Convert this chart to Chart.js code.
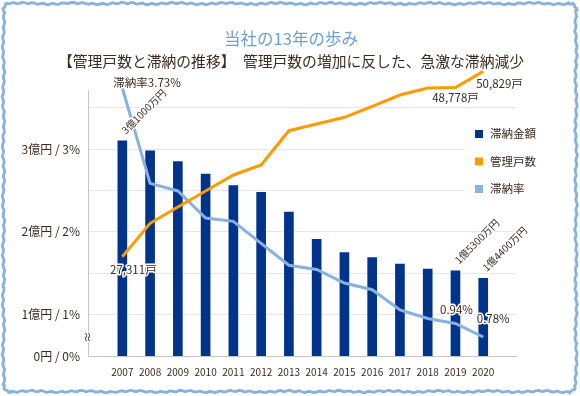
<!DOCTYPE html>
<html lang="ja">
<head>
<meta charset="utf-8">
<style>
  html, body { margin: 0; padding: 0; background: #fff; }
  #wrap { width: 580px; height: 396px; }
</style>
<script src="https://cdn.jsdelivr.net/npm/chart.js@4.4.1/dist/chart.umd.min.js"></script>
</head>
<body>
<div id="wrap"><canvas id="chart" width="580" height="396"></canvas></div>
<script>
// --- data ---
const years = ['2007', '2008', '2009', '2010', '2011', '2012', '2013', '2014', '2015', '2016', '2017', '2018', '2019', '2020']
// 滞納金額 (億円)
const arrears = [3.10, 2.98, 2.85, 2.70, 2.56, 2.48, 2.24, 1.91, 1.75, 1.69, 1.61, 1.55, 1.53, 1.44]
// 管理戸数 (戸)
const households = [27311, 31550, 33620, 35650, 37680, 38950, 43300, 44150, 45000, 46380, 47830, 48720, 48778, 50829]
// 滞納率 (%)
const arrearsRate = [3.73, 2.60, 2.51, 2.19, 2.15, 1.89, 1.63, 1.58, 1.42, 1.34, 1.10, 1.00, 0.94, 0.78]
// left axis (0 is drawn compressed at 0.5)
const yTicks = [0.5, 1, 1.5, 2, 2.5, 3, 3.5]
const yTickLabels = { 0.5: '0円 / 0%', 1: '1億円 / 1%', 2: '2億円 / 2%', 3: '3億円 / 3%' }
const labelled = [0, 12, 13]

const FONT = "'Noto Sans CJK JP', 'Noto Sans', sans-serif"
const TEXT = '#3c2b20'
const NAVY = '#00348a'
const ORANGE = '#ff9b00'
const SKY = '#86b1e1'

function fmtYen(v) {
  const oku = Math.floor(v + 1e-9)
  const man = Math.round((v - oku) * 10000)
  return oku + '億' + man + '万円'
}
function fmtHouse(v) {
  return v.toLocaleString('en-US') + '戸'
}

function haloText(ctx, text, x, y) {
  ctx.lineJoin = 'round'
  ctx.lineWidth = 3
  ctx.strokeStyle = '#fff'
  ctx.strokeText(text, x, y)
  ctx.fillText(text, x, y)
}

// wobbly hand-drawn frame
function framePath(ctx, x0, y0, x1, y1, r) {
  const pts = []
  let k = 0
  const add = (x, y, nx, ny) => {
    const w = Math.sin(k * 1.9) * 0.8 + Math.sin(k * 0.37) * 0.6
    k++
    pts.push([x + nx * w, y + ny * w])
  }
  const arc = (cx, cy, a0, a1) => {
    for (let a = a0; a <= a1; a += 0.25) add(cx + r * Math.cos(a), cy + r * Math.sin(a), Math.cos(a), Math.sin(a))
  }
  for (let x = x0 + r; x <= x1 - r; x += 3) add(x, y0, 0, -1)
  arc(x1 - r, y0 + r, -Math.PI / 2, 0)
  for (let y = y0 + r; y <= y1 - r; y += 3) add(x1, y, 1, 0)
  arc(x1 - r, y1 - r, 0, Math.PI / 2)
  for (let x = x1 - r; x >= x0 + r; x -= 3) add(x, y1, 0, 1)
  arc(x0 + r, y1 - r, Math.PI / 2, Math.PI)
  for (let y = y1 - r; y >= y0 + r; y -= 3) add(x0, y, -1, 0)
  arc(x0 + r, y0 + r, Math.PI, Math.PI * 1.5)
  ctx.beginPath()
  pts.forEach((p, i) => i ? ctx.lineTo(p[0], p[1]) : ctx.moveTo(p[0], p[1]))
  ctx.closePath()
}

const decorPlugin = {
  id: 'decor',
  beforeDraw(chart) {
    const ctx = chart.ctx
    ctx.save()
    framePath(ctx, 3.5, 3.5, 576, 391.5, 7)
    ctx.strokeStyle = SKY
    ctx.lineWidth = 2.8
    ctx.stroke()

    ctx.textAlign = 'center'
    ctx.textBaseline = 'middle'
    ctx.fillStyle = '#6d9fd7'
    ctx.font = '16.5px ' + FONT
    ctx.fillText('当社の13年の歩み', 291, 39)
    ctx.fillStyle = TEXT
    ctx.font = '14.8px ' + FONT
    ctx.fillText('【管理戸数と滞納の推移】　管理戸数の増加に反した、急激な滞納減少', 291, 61)
    ctx.restore()
  },
  afterDraw(chart) {
    const ctx = chart.ctx
    const area = chart.chartArea
    ctx.save()
    // axis break mark
    ctx.translate(area.left, 337)
    ctx.rotate(-Math.PI / 2)
    ctx.font = '11px ' + FONT
    ctx.fillStyle = TEXT
    ctx.textAlign = 'center'
    ctx.textBaseline = 'middle'
    haloText(ctx, '≈', 0, 0)
    ctx.restore()

    // legend
    ctx.save()
    ctx.fillStyle = '#fff'
    ctx.fillRect(465, 114, area.right - 465, 90)
    ctx.font = '11.5px ' + FONT
    ctx.textBaseline = 'middle'
    ctx.textAlign = 'left'
    const rows = [134, 161.5, 189]
    chart.data.datasets.forEach((ds, i) => {
      ctx.fillStyle = ds.legendColor
      ctx.fillRect(475, rows[i] - 4, 8, 8)
      ctx.fillStyle = TEXT
      ctx.fillText(ds.label, 490, rows[i])
    })
    ctx.restore()
  }
}

const labelPlugin = {
  id: 'pointLabels',
  afterDatasetsDraw(chart) {
    const ctx = chart.ctx
    const bars = chart.getDatasetMeta(0).data
    const house = chart.getDatasetMeta(1).data
    const rate = chart.getDatasetMeta(2).data
    ctx.save()
    ctx.fillStyle = TEXT

    // 滞納金額, rotated
    ctx.font = '10px ' + FONT
    ctx.textAlign = 'left'
    ctx.textBaseline = 'middle'
    labelled.forEach(i => {
      const b = bars[i]
      ctx.save()
      ctx.translate(b.x + 1, b.y - 9)
      ctx.rotate(-Math.PI / 4)
      haloText(ctx, fmtYen(arrears[i]), 0, 0)
      ctx.restore()
    })

    ctx.font = '11.5px ' + FONT
    // 管理戸数
    const houseOff = { 0: [11, 12.5, 'center'], 12: [0, 10, 'center'], 13: [-7, 12, 'left'] }
    labelled.forEach(i => {
      const p = house[i], o = houseOff[i]
      ctx.textAlign = o[2]
      haloText(ctx, fmtHouse(households[i]), p.x + o[0], p.y + o[1])
    })
    // 滞納率
    const rateOff = { 0: [-9, -5, 'left'], 12: [1, -13.5, 'center'], 13: [10, -18, 'center'] }
    labelled.forEach(i => {
      const p = rate[i], o = rateOff[i]
      ctx.textAlign = o[2]
      const txt = (i === 0 ? '滞納率' : '') + arrearsRate[i].toFixed(2) + '%'
      haloText(ctx, txt, p.x + o[0], p.y + o[1])
    })
    ctx.restore()
  }
}

new Chart(document.getElementById('chart'), {
  data: {
    datasets: [
      {
        type: 'bar',
        label: '滞納金額',
        data: arrears.map((v, i) => ({ x: i, y: v })),
        backgroundColor: NAVY,
        legendColor: NAVY,
        barThickness: 9,
        yAxisID: 'y',
        order: 3
      },
      {
        type: 'line',
        label: '管理戸数',
        data: households.map((v, i) => ({ x: i, y: v })),
        borderColor: ORANGE,
        legendColor: ORANGE,
        borderWidth: 3,
        pointRadius: 0,
        tension: 0,
        clip: false,
        yAxisID: 'yHouse',
        order: 1
      },
      {
        type: 'line',
        label: '滞納率',
        data: arrearsRate.map((v, i) => ({ x: i, y: v })),
        borderColor: SKY,
        legendColor: SKY,
        borderWidth: 3,
        pointRadius: 0,
        tension: 0,
        clip: false,
        yAxisID: 'yRate',
        order: 2
      }
    ]
  },
  options: {
    responsive: false,
    animation: false,
    events: [],
    layout: { padding: { top: 90, right: 64, bottom: 0, left: 0 } },
    plugins: {
      legend: { display: false },
      tooltip: { enabled: false }
    },
    scales: {
      x: {
        type: 'linear',
        min: -0.686,
        max: 13.63,
        afterBuildTicks: s => { s.ticks = years.map((_, i) => ({ value: i })) },
        afterFit: s => { s.height = 40 },
        ticks: {
          callback: v => years[v],
          autoSkip: false,
          maxRotation: 0,
          padding: 10,
          color: TEXT,
          font: { family: FONT, size: 10 }
        },
        grid: { display: false, drawTicks: false },
        border: { color: '#c6c6c6' }
      },
      y: {
        min: 0.5,
        max: 3.716,
        afterBuildTicks: s => { s.ticks = yTicks.map(v => ({ value: v })) },
        afterFit: s => { s.width = 88 },
        ticks: {
          callback: v => yTickLabels[v] || '',
          padding: 8,
          color: TEXT,
          font: { family: FONT, size: 12 }
        },
        grid: { color: '#e6e6e6', drawTicks: false },
        border: { color: '#c6c6c6' }
      },
      yHouse: { display: false, min: 14710, max: 48465 },
      yRate: { display: false, min: 0.555, max: 3.706 }
    }
  },
  plugins: [decorPlugin, labelPlugin]
})
</script>
</body>
</html>
